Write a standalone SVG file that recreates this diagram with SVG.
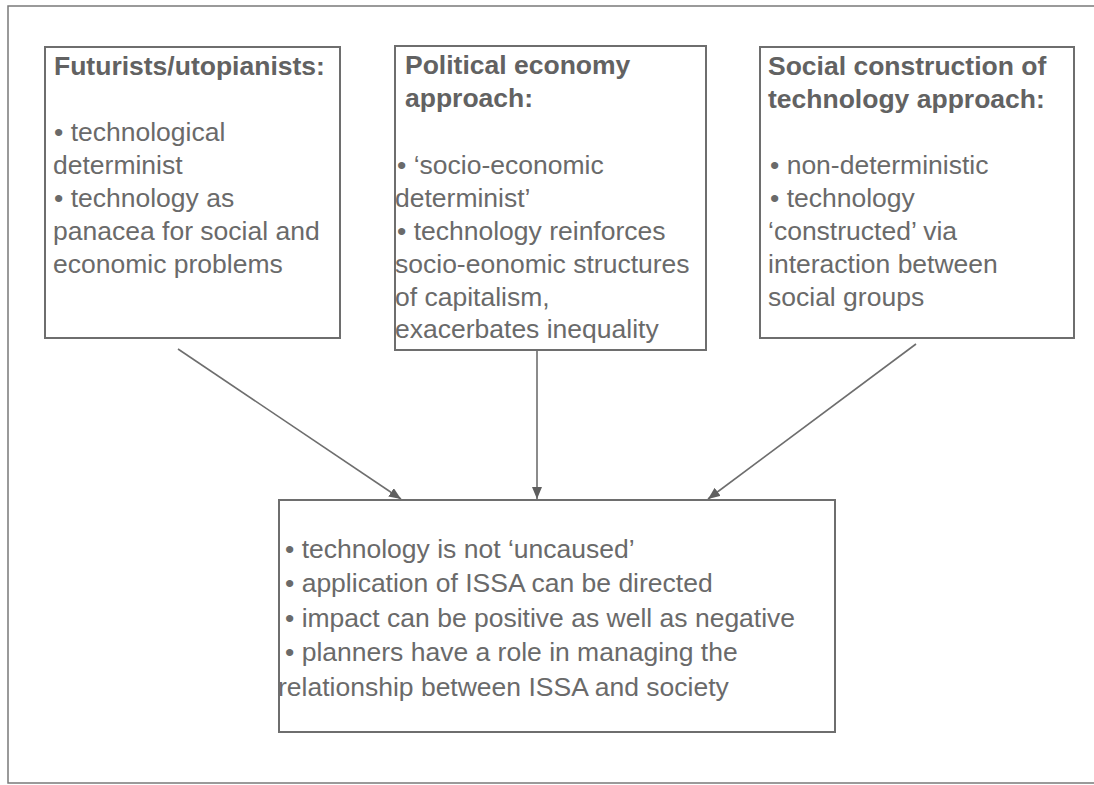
<svg xmlns="http://www.w3.org/2000/svg" width="1094" height="785" viewBox="0 0 1094 785">
  <style>
    .frame { fill: none; stroke: #7a7a7a; stroke-width: 1.5; }
    .box { fill: #ffffff; stroke: #6e6e6e; stroke-width: 2; }
    .t { font-family: "Liberation Sans", Arial, sans-serif; font-size: 26.5px; fill: #6a6a6a; }
    .h { font-weight: bold; fill: #626262; }
    .edge { fill: none; stroke: #6e6e6e; stroke-width: 1.6; }
  </style>
  <defs>
    <marker id="arrow" viewBox="0 0 12 10" refX="12" refY="5" markerWidth="12" markerHeight="10" markerUnits="userSpaceOnUse" orient="auto">
      <path d="M0,0 L12,5 L0,10 Z" fill="#5f5f5f"/>
    </marker>
  </defs>

  <rect width="1094" height="785" fill="#ffffff"/>

  <!-- page frame (right edge runs off the page) -->
  <path class="frame" d="M1100,6 H8 V783 H1100"/>

  <g id="connectors">
    <line class="edge" x1="178" y1="349" x2="401" y2="499" marker-end="url(#arrow)"/>
    <line class="edge" x1="537" y1="350" x2="537" y2="499" marker-end="url(#arrow)"/>
    <line class="edge" x1="916" y1="344" x2="708" y2="499" marker-end="url(#arrow)"/>
  </g>

  <g id="futurists">
    <rect class="box" x="45" y="47" width="295" height="291"/>
    <text class="t h" x="54" y="75">Futurists/utopianists:</text>
    <text class="t" x="54" y="141">• technological</text>
    <text class="t" x="53" y="174">determinist</text>
    <text class="t" x="54" y="207">• technology as</text>
    <text class="t" x="53" y="240">panacea for social and</text>
    <text class="t" x="53" y="273">economic problems</text>
  </g>

  <g id="political-economy">
    <rect class="box" x="395" y="46" width="311" height="304"/>
    <text class="t h" x="405" y="74">Political economy</text>
    <text class="t h" x="405" y="107">approach:</text>
    <text class="t" x="397" y="174">• ‘socio-economic</text>
    <text class="t" x="395" y="207">determinist’</text>
    <text class="t" x="397" y="240">• technology reinforces</text>
    <text class="t" x="395" y="273">socio-eonomic structures</text>
    <text class="t" x="395" y="306">of capitalism,</text>
    <text class="t" x="395" y="338">exacerbates inequality</text>
  </g>

  <g id="social-construction">
    <rect class="box" x="760" y="47" width="314" height="291"/>
    <text class="t h" x="768" y="75">Social construction of</text>
    <text class="t h" x="768" y="108">technology approach:</text>
    <text class="t" x="770" y="174">• non-deterministic</text>
    <text class="t" x="770" y="207">• technology</text>
    <text class="t" x="768" y="240">‘constructed’ via</text>
    <text class="t" x="768" y="273">interaction between</text>
    <text class="t" x="768" y="306">social groups</text>
  </g>

  <g id="implications">
    <rect class="box" x="279" y="500" width="556" height="232"/>
    <text class="t" x="285" y="558">• technology is not ‘uncaused’</text>
    <text class="t" x="285" y="592">• application of ISSA can be directed</text>
    <text class="t" x="285" y="627">• impact can be positive as well as negative</text>
    <text class="t" x="285" y="661">• planners have a role in managing the</text>
    <text class="t" x="278" y="696">relationship between ISSA and society</text>
  </g>
</svg>
